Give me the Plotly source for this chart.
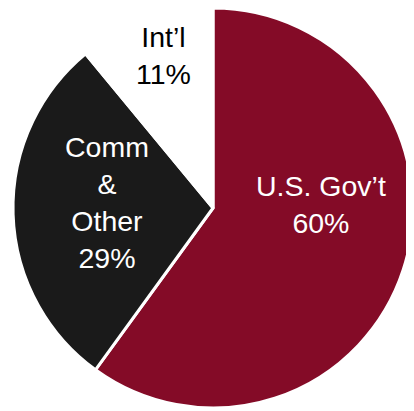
import math
import plotly.graph_objects as go

labels = ["U.S. Gov’t", "Comm<br>&<br>Other", "Int’l"]
values = [60, 29, 11]
colors = ["#840B27", "#1A1A1A", "#FFFFFF"]
text_colors = ["#FFFFFF", "#FFFFFF", "#000000"]
# label placement (style): angle clockwise from 12 o'clock, fraction of radius
label_angle = [88, 273, 342]
label_radius = [0.54, 0.53, 0.80]

FONT = "Liberation Sans, Arial, sans-serif"

fig = go.Figure(go.Pie(
    labels=labels,
    values=values,
    sort=False,
    direction="clockwise",
    rotation=0,
    marker=dict(colors=colors, line=dict(color="#FFFFFF", width=3)),
    textinfo="none",
    hoverinfo="skip",
    showlegend=False,
    domain=dict(x=[0, 1], y=[0, 1]),
))

annotations = []
for lab, val, col, ang, rf in zip(labels, values, text_colors, label_angle, label_radius):
    a = math.radians(ang)
    annotations.append(dict(
        text=f"{lab}<br>{val}%",
        x=0.5 + 0.5 * rf * math.sin(a),
        y=0.5 + 0.5 * rf * math.cos(a),
        xref="paper", yref="paper",
        xanchor="center", yanchor="middle",
        showarrow=False,
        font=dict(family=FONT, size=28.5, color=col),
        align="center",
    ))

fig.update_layout(
    width=414, height=411,
    margin=dict(l=5, r=9, t=0, b=11),
    paper_bgcolor="white",
    plot_bgcolor="white",
    annotations=annotations,
)

fig.write_html("out.html")
